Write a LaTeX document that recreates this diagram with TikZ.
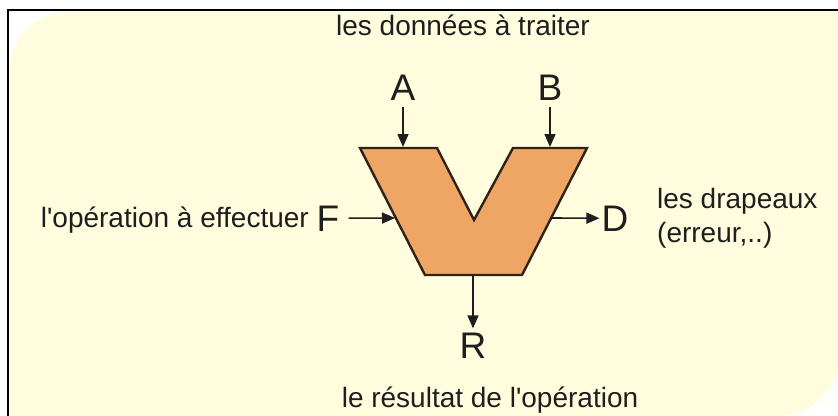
\documentclass[tikz,border=0pt]{standalone}
\usepackage{fontspec}
\setmainfont{Liberation Sans}
\usetikzlibrary{arrows.meta}
\definecolor{bgyellow}{RGB}{255,253,222}
\definecolor{alufill}{RGB}{239,166,100}
\definecolor{aluline}{RGB}{45,35,25}
\definecolor{ink}{RGB}{30,30,30}
\tikzset{
  txt/.style={inner sep=0pt, text=ink, font=\fontsize{28}{32}\selectfont},
  letter/.style={inner sep=0pt, text=ink, font=\fontsize{37}{40}\selectfont},
  arr/.style={draw=ink, line width=1.6pt, -{Triangle[length=13pt,width=11pt]}},
  alu/.style={draw=aluline, fill=alufill, line width=2.4pt, line join=miter},
}
\begin{document}
\begin{tikzpicture}[x=1pt,y=-1pt]
\useasboundingbox (0,0) rectangle (838,415);
% background
\fill[white] (0,0) rectangle (838,415);
\fill[bgyellow] (10,420) -- (10,70) arc[start angle=180,end angle=270,radius=58]
  -- (845,12) -- (845,420) -- cycle;
\fill[white] (839,356) arc[start angle=0,end angle=90,radius=60] -- (845,416) -- (845,356) -- cycle;
\fill[white] (779,416) -- (845,416) -- (845,420) -- (779,420) -- cycle;
\draw[line width=2.5pt, black] (8,430) -- (8,10) -- (850,10);
% ALU shape
\coordinate (tl) at (360,148);
\coordinate (til) at (437,148);
\coordinate (notch) at (474,220);
\coordinate (tir) at (513,148);
\coordinate (tr) at (587,148);
\coordinate (br) at (522,275);
\coordinate (bl) at (425,275);
\path[alu] (tl) -- (til) -- (notch) -- (tir) -- (tr) -- (br) -- (bl) -- cycle;
% connection points on the shape
\coordinate (pA) at (403,147);
\coordinate (pB) at (550,147);
\coordinate (pF) at (395,218);
\coordinate (pD) at (551,218);
\coordinate (pR) at (473,276);
% labels
\node[txt, anchor=base] (title) at (463,35) {les données à traiter};
\node[letter, anchor=base] (A) at (403,100) {A};
\node[letter, anchor=base] (B) at (550,100) {B};
\node[letter, anchor=base] (F) at (328,231) {F};
\node[letter, anchor=base] (D) at (615,231) {D};
\node[letter, anchor=base] (R) at (473,358) {R};
\node[txt, anchor=base east] (op) at (309,227) {l\textquotesingle opération à effectuer};
\node[txt, anchor=base west] (drap) at (657,208) {les drapeaux};
\node[txt, anchor=base west] (err) at (657,242) {(erreur,..)};
\node[txt, anchor=base] (res) at (490,407) {le résultat de l\textquotesingle opération};
% connectors
\draw[arr, shorten <=7pt] (A) -- (pA);
\draw[arr, shorten <=7pt] (B) -- (pB);
\draw[arr, shorten <=9pt] (F) -- (pF);
\draw[arr, shorten >=2pt] (pD) -- (D);
\draw[arr, shorten >=4pt] (pR) -- (R);
\end{tikzpicture}
\end{document}
